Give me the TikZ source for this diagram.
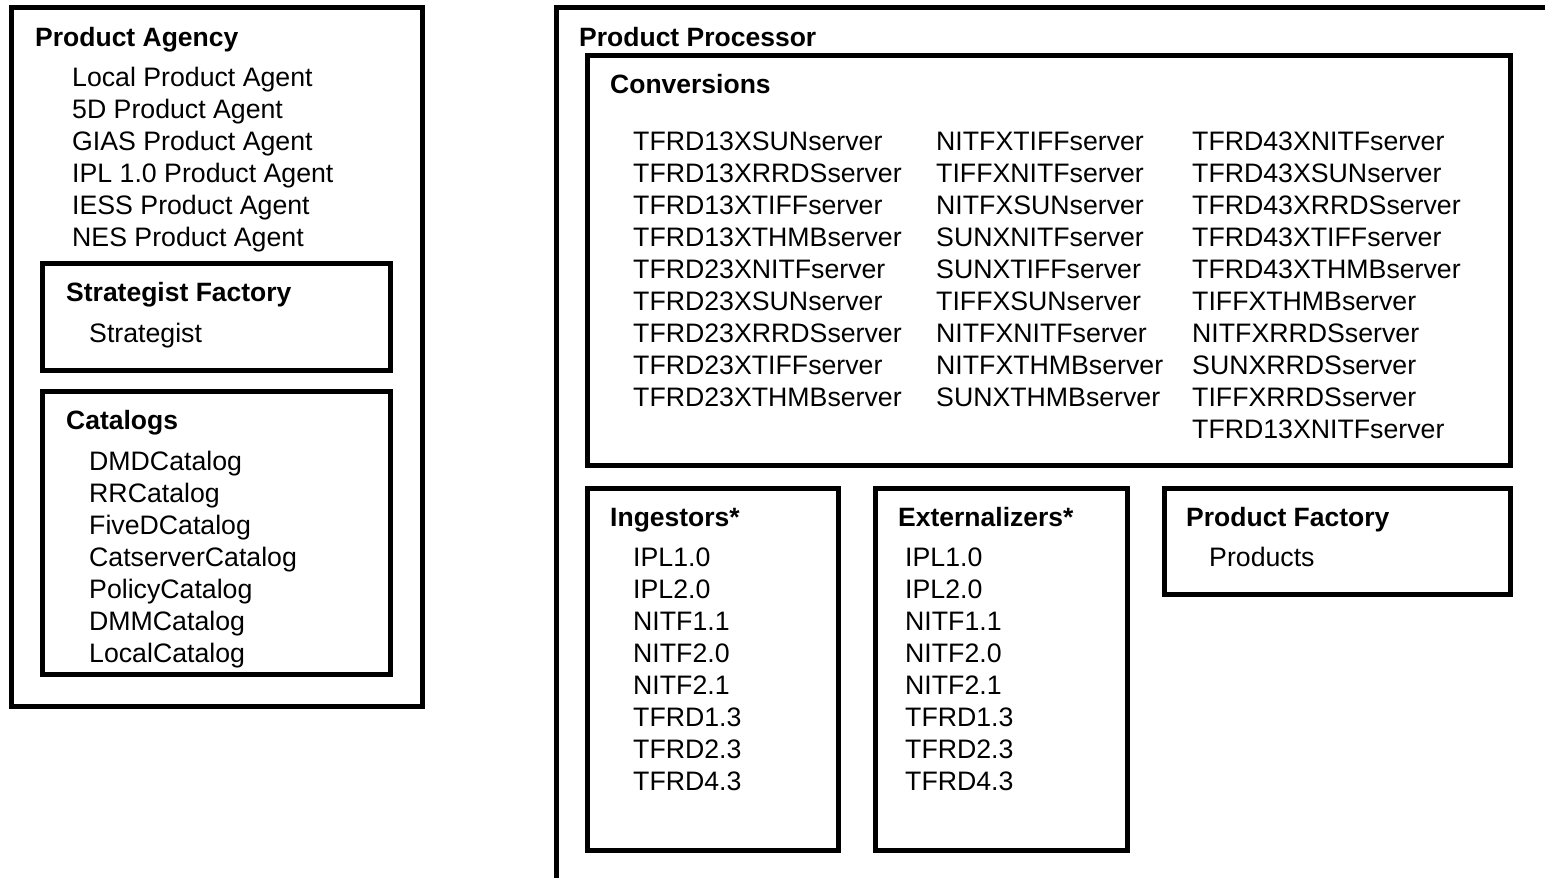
\documentclass[tikz,border=0pt]{standalone}
\usepackage{fontspec}
\setmainfont{Liberation Sans}
\begin{document}
\begin{tikzpicture}[x=1pt,y=-1pt,
  box/.style={line width=5pt},
  lbl/.style={anchor=base west, inner sep=0pt, font=\fontsize{26.7}{27}\selectfont},
  hd/.style={anchor=base west, inner sep=0pt, font=\fontsize{26.5}{27}\selectfont\bfseries}]
\useasboundingbox (0,0) rectangle (1545,878);
% boxes
\draw[box] (11,7) rectangle (422,706);
\draw[box] (42,263) rectangle (390,370);
\draw[box] (42,391) rectangle (390,674);
\draw[box] (1545,7) -- (556,7) -- (556,878);
\draw[box] (587,55) rectangle (1510,465);
\draw[box] (587,488) rectangle (838,850);
\draw[box] (875,488) rectangle (1127,850);
\draw[box] (1164,488) rectangle (1510,594);
% Product Agency
\node[hd] (pa) at (35,46.5) {Product Agency};
\foreach \t [count=\i] in {Local Product Agent,5D Product Agent,GIAS Product Agent,IPL 1.0 Product Agent,IESS Product Agent,NES Product Agent}
  \node[lbl] (pa\i) at (72,{86+32*(\i-1)}) {\t};
\node[hd] (sf) at (66,301.5) {Strategist Factory};
\node[lbl] (sf1) at (89,342) {Strategist};
\node[hd] (cat) at (66,429.5) {Catalogs};
\foreach \t [count=\i] in {DMDCatalog,RRCatalog,FiveDCatalog,CatserverCatalog,PolicyCatalog,DMMCatalog,LocalCatalog}
  \node[lbl] (cat\i) at (89,{470+32*(\i-1)}) {\t};
% Product Processor
\node[hd] (pp) at (579,46.5) {Product Processor};
\node[hd] (conv) at (610,93.5) {Conversions};
\foreach \t [count=\i] in {TFRD13XSUNserver,TFRD13XRRDSserver,TFRD13XTIFFserver,TFRD13XTHMBserver,TFRD23XNITFserver,TFRD23XSUNserver,TFRD23XRRDSserver,TFRD23XTIFFserver,TFRD23XTHMBserver}
  \node[lbl] (ca\i) at (633,{150.5+32*(\i-1)}) {\t};
\foreach \t [count=\i] in {NITFXTIFFserver,TIFFXNITFserver,NITFXSUNserver,SUNXNITFserver,SUNXTIFFserver,TIFFXSUNserver,NITFXNITFserver,NITFXTHMBserver,SUNXTHMBserver}
  \node[lbl] (cb\i) at (936,{150.5+32*(\i-1)}) {\t};
\foreach \t [count=\i] in {TFRD43XNITFserver,TFRD43XSUNserver,TFRD43XRRDSserver,TFRD43XTIFFserver,TFRD43XTHMBserver,TIFFXTHMBserver,NITFXRRDSserver,SUNXRRDSserver,TIFFXRRDSserver,TFRD13XNITFserver}
  \node[lbl] (cc\i) at (1192,{150.5+32*(\i-1)}) {\t};
\node[hd] (ing) at (610,526.5) {Ingestors*};
\foreach \t [count=\i] in {IPL1.0,IPL2.0,NITF1.1,NITF2.0,NITF2.1,TFRD1.3,TFRD2.3,TFRD4.3}
  \node[lbl] (ing\i) at (633,{566+32*(\i-1)}) {\t};
\node[hd] (ext) at (898,526.5) {Externalizers*};
\foreach \t [count=\i] in {IPL1.0,IPL2.0,NITF1.1,NITF2.0,NITF2.1,TFRD1.3,TFRD2.3,TFRD4.3}
  \node[lbl] (ext\i) at (905,{566+32*(\i-1)}) {\t};
\node[hd] (pf) at (1186,526.5) {Product Factory};
\node[lbl] (pf1) at (1209,566) {Products};
\end{tikzpicture}
\end{document}
